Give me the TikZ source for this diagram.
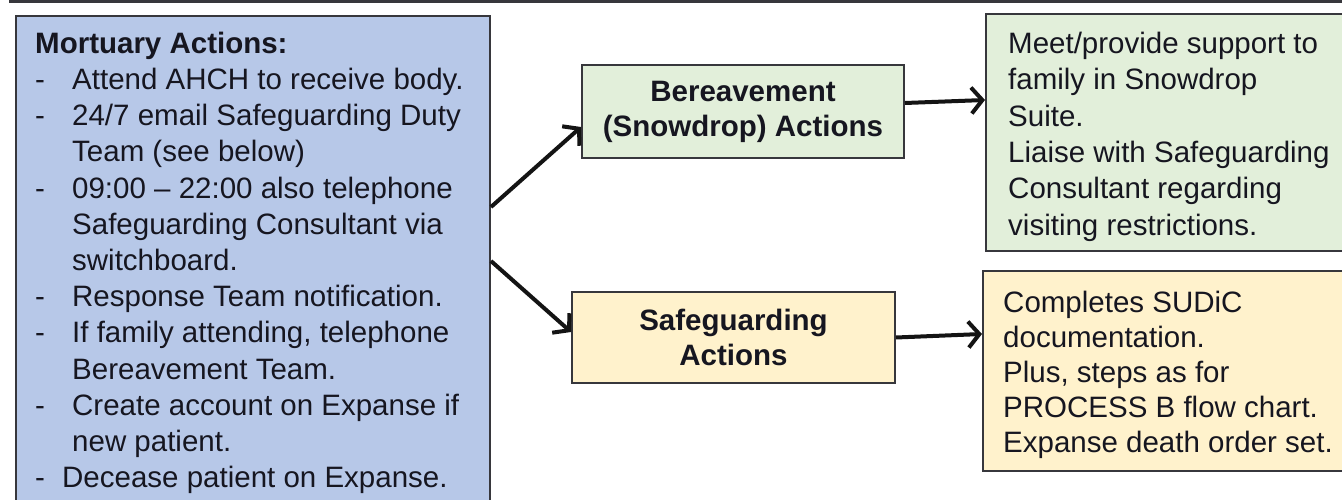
\documentclass[tikz,border=0pt]{standalone}
\usepackage{fontspec}
\setmainfont{Liberation Sans}
\usetikzlibrary{arrows.meta,calc}
\definecolor{boxblue}{RGB}{183,200,232}
\definecolor{boxgreen}{RGB}{226,239,218}
\definecolor{boxyellow}{RGB}{255,242,204}
\definecolor{edgegray}{RGB}{55,55,60}
\definecolor{inkc}{RGB}{22,22,32}
\tikzset{
  panel/.style={draw=edgegray, line width=2pt, inner sep=0pt, anchor=north west},
  headbox/.style={draw=edgegray, line width=2pt, inner sep=0pt, align=center,
    text=inkc, font=\fontsize{29.5}{35}\selectfont\bfseries},
  bodytext/.style={inner sep=0pt, anchor=north west, align=left, text=inkc},
  flow/.style={line width=4pt, draw=black!92, -{Straight Barb[length=11pt,width=26pt]}},
}
\newcommand{\dashitem}{\makebox[37pt][l]{-}}
\newcommand{\contitem}{\hspace*{37pt}}
\newcommand{\firststrut}{\rule{0pt}{25pt}}
\begin{document}
\begin{tikzpicture}[x=1pt,y=-1pt]
\useasboundingbox (0,0) rectangle (1342,500);
% top edge of the box above
\coordinate (topl) at (10,-20);
\coordinate (topc) at (10,1.5);
\coordinate (topr) at (1360,1.5);
\draw[line width=3pt, edgegray] (topl) -- (topc) -- (topr);

% left panel
\node[panel, fill=boxblue, minimum width=474pt, minimum height=510pt] (mort) at (15,15) {};
\node[bodytext, font=\fontsize{29.5}{36.2}\selectfont] (morttext) at (35,28) {%
\firststrut\textbf{Mortuary Actions:}\\
\dashitem Attend AHCH to receive body.\\
\dashitem 24/7 email Safeguarding Duty\\
\contitem Team (see below)\\
\dashitem 09:00 -- 22:00 also telephone\\
\contitem Safeguarding Consultant via\\
\contitem switchboard.\\
\dashitem Response Team notification.\\
\dashitem If family attending, telephone\\
\contitem Bereavement Team.\\
\dashitem Create account on Expanse if\\
\contitem new patient.\\
\makebox[27pt][l]{-}Decease patient on Expanse.};

% middle boxes
\node[headbox, fill=boxgreen, minimum width=322pt, minimum height=93pt] (ber) at (743,111.5)
  {Bereavement\\(Snowdrop) Actions};
\node[headbox, fill=boxyellow, minimum width=323pt, minimum height=91pt] (saf) at (733.5,337.5)
  {Safeguarding\\Actions};

% right panels
\node[panel, fill=boxgreen, minimum width=380pt, minimum height=237pt] (grn) at (985,13) {};
\node[bodytext, font=\fontsize{29.5}{36.4}\selectfont] (grntext) at (1008,28) {%
\firststrut Meet/provide support to\\
family in Snowdrop\\
Suite.\\
Liaise with Safeguarding\\
Consultant regarding\\
visiting restrictions.};

\node[panel, fill=boxyellow, minimum width=380pt, minimum height=200pt] (yel) at (982,270) {};
\node[bodytext, font=\fontsize{29.5}{35}\selectfont] (yeltext) at (1003,287) {%
\firststrut Completes SUDiC\\
documentation.\\
Plus, steps as for\\
PROCESS B flow chart.\\
Expanse death order set.};

% connectors
\draw[flow] ([yshift=-192pt]mort.north east) -- ([yshift=-15.5pt]ber.west);
\draw[flow] ([yshift=-246pt]mort.north east) -- ([yshift=5.5pt]saf.west);
\draw[flow] ([yshift=8.5pt]ber.east) -- ([yshift=32.5pt]grn.west);
\draw[flow] (saf.east) -- ([yshift=37pt]yel.west);
\end{tikzpicture}
\end{document}
